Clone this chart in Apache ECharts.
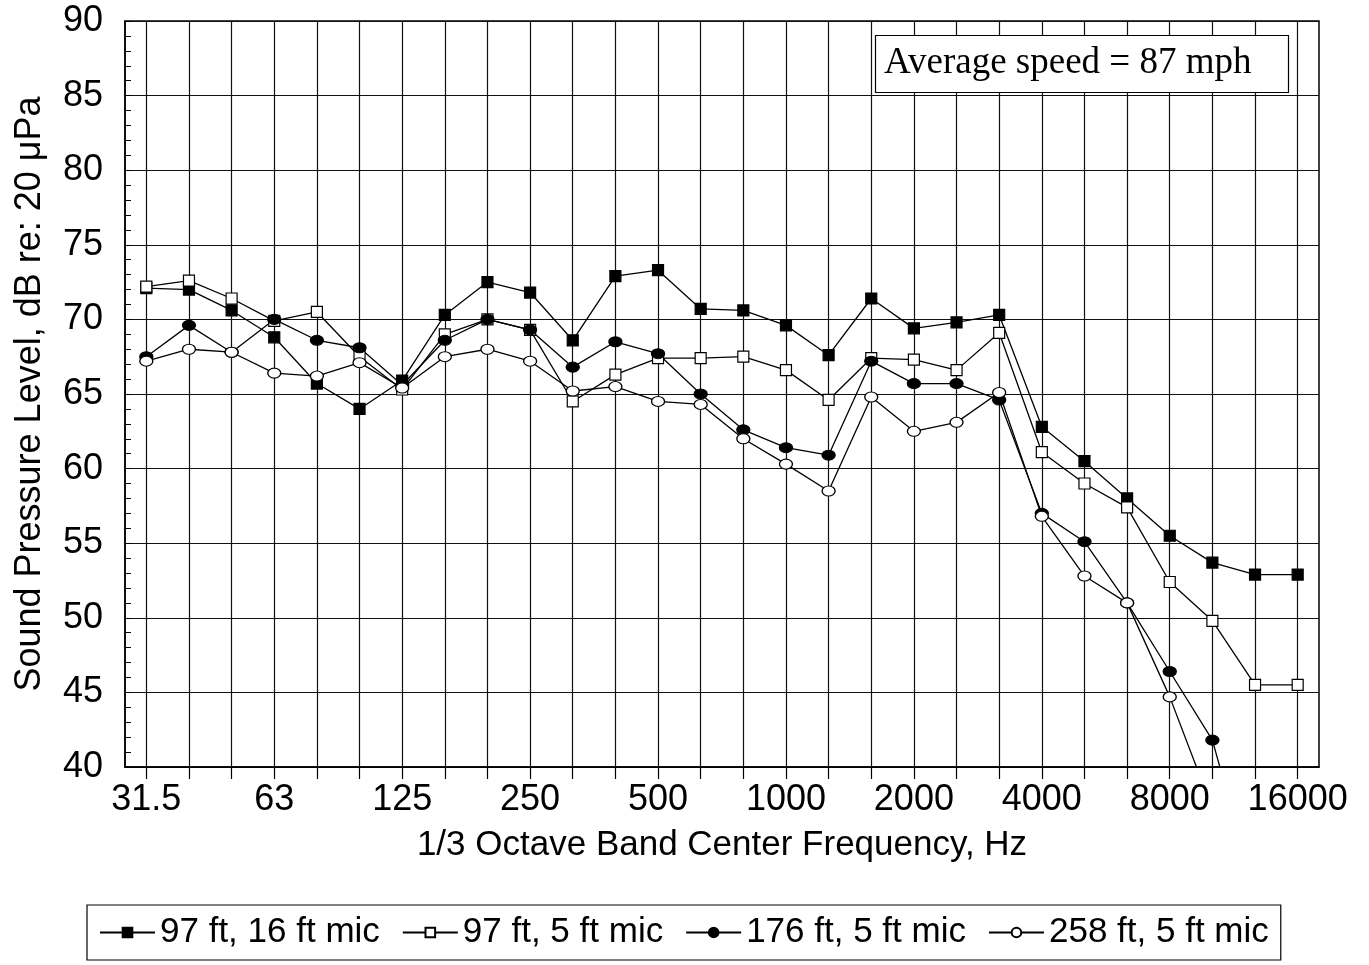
<!DOCTYPE html>
<html>
<head>
    <meta charset="utf-8">
    <title>1/3 Octave Band Spectrum</title>
    <script src="https://cdn.jsdelivr.net/npm/echarts@6.0.0/dist/echarts.min.js"></script>
    <style>
        body { margin: 0; background: #fff; }
    </style>
</head>
<body>
<div id="main" style="width: 1369px;height:965px;"></div>
<script type="text/javascript">

    // 1/3 octave band centre frequencies, Hz
    let freqs = ['31.5', '40', '50', '63', '80', '100', '125', '160', '200', '250', '315', '400', '500', '630',
        '800', '1000', '1250', '1600', '2000', '2500', '3150', '4000', '5000', '6300', '8000', '10000', '12500', '16000'];

    // levels, dB re 20 uPa
    let ft97mic16 = [72.1, 72.0, 70.6, 68.8, 65.7, 64.0, 65.9, 70.3, 72.5, 71.8, 68.6, 72.9, 73.3, 70.7,
        70.6, 69.6, 67.6, 71.4, 69.4, 69.8, 70.3, 62.8, 60.5, 58.0, 55.5, 53.7, 52.9, 52.9];
    let ft97mic5 = [72.2, 72.6, 71.4, 69.9, 70.5, 67.5, 65.3, 69.0, 70.0, 69.3, 64.5, 66.3, 67.4, 67.4,
        67.5, 66.6, 64.6, 67.4, 67.3, 66.6, 69.1, 61.1, 59.0, 57.4, 52.4, 49.8, 45.5, 45.5];
    let ft176mic5 = [67.5, 69.6, 67.8, 70.0, 68.6, 68.1, 65.6, 68.6, 70.0, 69.3, 66.8, 68.5, 67.7, 65.0,
        62.6, 61.4, 60.9, 67.2, 65.7, 65.7, 64.6, 57.0, 55.1, 51.0, 46.4, 41.8, 31.5, null];
    let ft258mic5 = [67.2, 68.0, 67.8, 66.4, 66.2, 67.1, 65.4, 67.5, 68.0, 67.2, 65.2, 65.5, 64.5, 64.3,
        62.0, 60.3, 58.5, 64.8, 62.5, 63.1, 65.1, 56.8, 52.8, 51.0, 44.7, 37.2, null, null];

    let seriesNames = ['97 ft, 16 ft mic', '97 ft, 5 ft mic', '176 ft, 5 ft mic', '258 ft, 5 ft mic'];

    let font = 'Liberation Sans, Arial, sans-serif';

    function makeSeries(name, data, symbol, size, fill) {
        return {
            name: name,
            type: 'line',
            data: data,
            symbol: symbol,
            symbolSize: size,
            showAllSymbol: true,
            clip: true,
            lineStyle: { color: '#000', width: 1.3 },
            itemStyle: { color: fill, borderColor: '#000', borderWidth: 1.2 },
            emphasis: { disabled: true },
            z: 3
        };
    }

    let option = {
        animation: false,
        backgroundColor: '#fff',
        title: {
            text: 'Average speed = 87 mph',
            left: 875,
            top: 35,
            padding: [10, 37, 11, 9],
            borderColor: '#000',
            borderWidth: 1.2,
            backgroundColor: '#fff',
            textStyle: {
                fontFamily: 'Liberation Serif, Times New Roman, serif',
                fontSize: 37,
                fontWeight: 'normal',
                color: '#000'
            }
        },
        legend: {
            left: 87,
            top: 905,
            padding: [10, 12],
            itemGap: 22,
            itemWidth: 55,
            itemHeight: 12,
            borderColor: '#000',
            borderWidth: 1.2,
            data: seriesNames,
            textStyle: { fontFamily: font, fontSize: 35, color: '#000' }
        },
        grid: {
            left: 125,
            right: 50,
            top: 21,
            bottom: 198,
            show: true,
            borderColor: '#000',
            borderWidth: 1.5,
            containLabel: false
        },
        xAxis: {
            type: 'category',
            data: freqs,
            boundaryGap: true,
            name: '1/3 Octave Band Center Frequency, Hz',
            nameLocation: 'middle',
            nameGap: 61,
            nameTextStyle: { fontFamily: font, fontSize: 35, color: '#000' },
            axisLine: { lineStyle: { color: '#000', width: 1.5 } },
            axisTick: { show: true, interval: 0, alignWithLabel: true, length: 12, lineStyle: { color: '#000', width: 1.2 } },
            axisLabel: { interval: 2, margin: 15, fontFamily: font, fontSize: 36, color: '#000' },
            splitLine: { show: true, interval: 0, alignWithLabel: true, lineStyle: { color: '#111', width: 1.2 } }
        },
        yAxis: {
            type: 'value',
            min: 40,
            max: 90,
            interval: 5,
            name: 'Sound Pressure Level, dB re: 20 μPa',
            nameLocation: 'middle',
            nameGap: 77,
            nameTextStyle: { fontFamily: font, fontSize: 36, color: '#000' },
            axisLine: { show: true, lineStyle: { color: '#000', width: 1.5 } },
            axisTick: { show: true, inside: true, length: 6, lineStyle: { color: '#000' } },
            minorTick: { show: true, splitNumber: 5, length: 6, lineStyle: { color: '#000' } },
            axisLabel: { margin: 22, fontFamily: font, fontSize: 36, color: '#000' },
            splitLine: { show: true, lineStyle: { color: '#111', width: 1.2 } }
        },
        series: [
            makeSeries(seriesNames[0], ft97mic16, 'rect', 11, '#000'),
            makeSeries(seriesNames[1], ft97mic5, 'rect', 11, '#fff'),
            makeSeries(seriesNames[2], ft176mic5, 'circle', [13, 10], '#000'),
            makeSeries(seriesNames[3], ft258mic5, 'circle', [13, 10], '#fff')
        ]
    };

    let myChart = echarts.init(document.getElementById('main'));
    myChart.setOption(option);
</script>
</body>
</html>
